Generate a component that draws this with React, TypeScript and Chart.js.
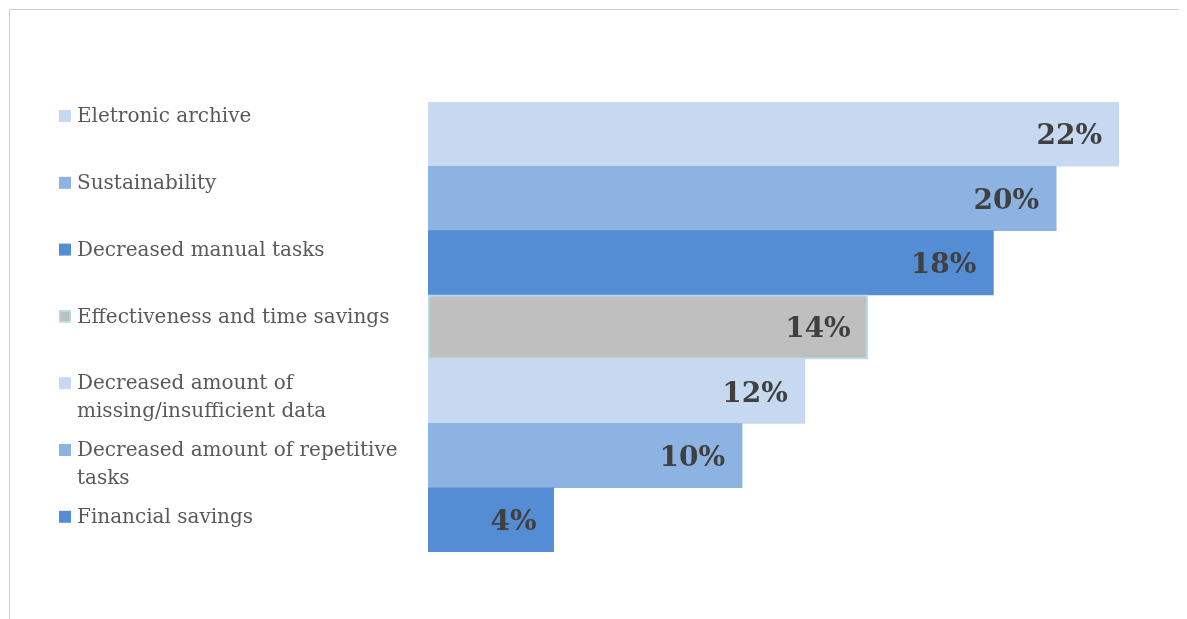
import React, { useEffect, useRef } from "react";
import { Chart, registerables } from "chart.js";

Chart.register(...registerables);

// ---- data ----
const categories: string[][] = [
  ["Eletronic archive"],
  ["Sustainability"],
  ["Decreased manual tasks"],
  ["Effectiveness and time savings"],
  ["Decreased amount of", "missing/insufficient data"],
  ["Decreased amount of repetitive", "tasks"],
  ["Financial savings"],
];
const values: number[] = [22, 20, 18, 14, 12, 10, 4];
const valueLabels: string[] = ["22%", "20%", "18%", "14%", "12%", "10%", "4%"];
const barColors: string[] = ["#C6D9F1", "#8DB3E2", "#548DD4", "#BFBFBF", "#C6D9F1", "#8DB3E2", "#548DD4"];
const barBorderColors: string[] = ["#C6D9F1", "#8DB3E2", "#548DD4", "#B7DEE8", "#C6D9F1", "#8DB3E2", "#548DD4"];
const barBorderWidths: number[] = [0, 0, 0, 2, 0, 0, 0];

const LABEL_FONT = "'DejaVu Serif', serif";

const sideLegend = {
  id: "sideLegend",
  afterDraw(chart: any) {
    const ctx = chart.ctx as CanvasRenderingContext2D;
    const area = chart.chartArea;
    const step = area.height * (66.8 / 450);
    const firstY = area.top + 14;
    ctx.save();
    ctx.font = `20px ${LABEL_FONT}`;
    ctx.textBaseline = "middle";
    ctx.textAlign = "left";
    categories.forEach((lines, i) => {
      const y = firstY + i * step;
      ctx.fillStyle = barColors[i];
      ctx.fillRect(49, y - 6, 12, 12);
      if (barBorderWidths[i] > 0) {
        ctx.strokeStyle = barBorderColors[i];
        ctx.lineWidth = 1.5;
        ctx.strokeRect(49.75, y - 5.25, 10.5, 10.5);
      }
      ctx.fillStyle = "#595959";
      lines.forEach((line, j) => {
        ctx.fillText(line, 67, y + 1 + j * 28);
      });
    });
    ctx.restore();
  },
};

const barValueLabels = {
  id: "barValueLabels",
  afterDatasetsDraw(chart: any) {
    const ctx = chart.ctx as CanvasRenderingContext2D;
    const meta = chart.getDatasetMeta(0);
    ctx.save();
    ctx.font = `bold 28px ${LABEL_FONT}`;
    ctx.fillStyle = "#404040";
    ctx.textAlign = "right";
    ctx.textBaseline = "middle";
    meta.data.forEach((bar: any, i: number) => {
      ctx.fillText(valueLabels[i], bar.x - 17, bar.y + 3);
    });
    ctx.restore();
  },
};

export default function App() {
  const canvasRef = useRef<HTMLCanvasElement | null>(null);

  useEffect(() => {
    document.body.style.overflow = "hidden";
    if (!canvasRef.current) return;
    const chart = new Chart(canvasRef.current, {
      type: "bar",
      data: {
        labels: categories.map((c) => c.join(" ")),
        datasets: [
          {
            data: values,
            backgroundColor: barColors,
            borderColor: barBorderColors,
            borderWidth: barBorderWidths,
            borderSkipped: false,
            categoryPercentage: 1,
            barPercentage: 1,
          },
        ],
      },
      options: {
        indexAxis: "y",
        animation: false,
        responsive: true,
        maintainAspectRatio: false,
        layout: { padding: { left: 418, top: 92, right: 62, bottom: 67 } },
        scales: {
          x: { display: false, min: 0, max: 22 },
          y: { display: false },
        },
        plugins: {
          legend: { display: false },
          tooltip: { enabled: false },
        },
      },
      plugins: [sideLegend, barValueLabels],
    });
    return () => chart.destroy();
  }, []);

  return (
    <div
      style={{
        marginLeft: 1,
        marginTop: 1,
        width: 1173,
        height: 610,
        boxSizing: "border-box",
        borderTop: "1px solid #CFCFCF",
        borderLeft: "1px solid #CFCFCF",
        borderRight: "1px solid #CFCFCF",
        position: "relative",
      }}
    >
      <canvas ref={canvasRef} />
    </div>
  );
}
